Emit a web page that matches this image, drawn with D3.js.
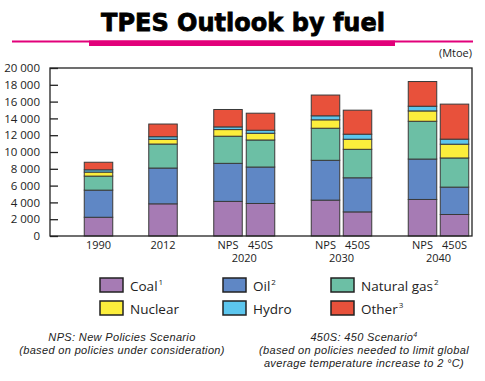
<!DOCTYPE html>
<html><head><meta charset="utf-8">
<script src="https://cdn.jsdelivr.net/npm/d3@7"></script>
<style>body{margin:0;background:#fff;}svg{display:block;}</style>
</head><body>
<svg id="c" width="485" height="381"></svg>
<script>
const groups = ["1990","2012","NPS 2020","450S 2020","NPS 2030","450S 2030","NPS 2040","450S 2040"];
const xLabels = ["1990","2012","NPS","450S","NPS","450S","NPS","450S"];
const yearLabels = [{after:2, text:"2020"},{after:4, text:"2030"},{after:6, text:"2040"}];
const fuels = ["Coal","Oil","Natural gas","Nuclear","Hydro","Other"];
const fuelSup = ["1","2","2","","","3"];
const coal    = [2230, 3830, 4120, 3870, 4270, 2870, 4350, 2560];
const oil     = [3230, 4260, 4530, 4340, 4740, 4060, 4810, 3260];
const gas     = [1670, 2860, 3230, 3220, 3820, 3390, 4500, 3470];
const nuclear = [ 480,  560,  790,  800, 1000, 1200, 1230, 1640];
const hydro   = [ 270,  310,  320,  360,  480,  600,  560,  600];
const other   = [ 900, 1510, 2070, 2030, 2470, 2860, 2940, 4170];
const yTicks = [0,2000,4000,6000,8000,10000,12000,14000,16000,18000,20000];
const colors = ["#a67bb4","#5f87c5","#6cbfa5","#fcee3c","#5cc6ee","#e8513b"];

const svg = d3.select("#c");
const font = "'Open Sans', 'DejaVu Sans', sans-serif";

// title
svg.append("text").attr("x",243).attr("y",31).attr("text-anchor","middle")
  .attr("font-family","'DejaVu Sans', sans-serif").attr("font-weight","bold")
  .attr("font-size",25).attr("textLength",284).attr("lengthAdjust","spacingAndGlyphs")
  .attr("fill","#000").attr("stroke","#000").attr("stroke-width",0.8).text("TPES Outlook by fuel");
svg.append("rect").attr("x",12).attr("y",40.5).attr("width",461).attr("height",2).attr("fill","#e2007a");
svg.append("rect").attr("x",89).attr("y",40.5).attr("width",306).attr("height",5.5).attr("fill","#e2007a");

svg.append("text").attr("x",472).attr("y",57).attr("text-anchor","end")
  .attr("font-family",font).attr("font-size",11).attr("fill","#222").text("(Mtoe)");

const L = 50, R = 472, T = 68, B = 236;
const y = d3.scaleLinear().domain([0,20000]).range([B,T]);
const centers = [98.5, 163, 228, 260.5, 325.5, 357.5, 422.5, 454.5];
const bw = 28.5;
const cx = g => centers[groups.indexOf(g)];

const table = groups.map((g,i)=>({group:g, Coal:coal[i], Oil:oil[i], "Natural gas":gas[i], Nuclear:nuclear[i], Hydro:hydro[i], Other:other[i]}));
const stack = d3.stack().keys(fuels)(table);

svg.append("g").selectAll("g").data(stack).join("g")
  .attr("fill",(d,i)=>colors[i])
  .selectAll("rect").data(d=>d).join("rect")
  .attr("x",d=>cx(d.data.group)-bw/2).attr("width",bw)
  .attr("y",d=>y(d[1])).attr("height",d=>y(d[0])-y(d[1]))
  .attr("stroke","#3a3a3a").attr("stroke-width",1);

// frame
svg.append("rect").attr("x",L).attr("y",T).attr("width",R-L).attr("height",B-T)
  .attr("fill","none").attr("stroke","#222").attr("stroke-width",1.3);

// y axis
const ya = d3.axisLeft(y).tickValues(yTicks).tickSize(-8).tickPadding(14)
  .tickFormat(d=>d3.format(",")(d).replace(/,/g," "));
const yg = svg.append("g").attr("transform",`translate(${L},0)`).call(ya);
yg.select(".domain").remove();
yg.selectAll("line").attr("stroke","#222").attr("stroke-width",1.3);
yg.selectAll("text").attr("font-family",font).attr("font-size",11.5).attr("fill","#222").attr("dx",4);

// x labels
svg.append("g").selectAll("text").data(groups).join("text")
  .attr("x",g=>cx(g)).attr("y",249).attr("text-anchor","middle")
  .attr("font-family",font).attr("font-size",11).attr("fill","#222")
  .text((g,i)=>xLabels[i]);
svg.append("g").selectAll("text").data(yearLabels).join("text")
  .attr("x",d=>(centers[d.after]+centers[d.after+1])/2).attr("y",262).attr("text-anchor","middle")
  .attr("font-family",font).attr("font-size",11).attr("fill","#222").text(d=>d.text);

// legend
const legX = [100, 223, 331], legY = [278, 301];
const lg = svg.append("g").selectAll("g").data(fuels).join("g")
  .attr("transform",(d,i)=>`translate(${legX[i%3]},${legY[Math.floor(i/3)]})`);
lg.append("rect").attr("width",23).attr("height",14).attr("fill",(d,i)=>colors[i])
  .attr("stroke","#222").attr("stroke-width",1.5);
const lt = lg.append("text").attr("x",30).attr("y",12.5)
  .attr("font-family",font).attr("font-size",13.5).attr("fill","#222");
lt.append("tspan").text(d=>d);
lt.append("tspan").attr("font-size",8).attr("dy",-6).attr("dx",1).text((d,i)=>fuelSup[i]);

// footnotes
const fn = svg.append("g").attr("font-family","'Liberation Sans', Arial, sans-serif").attr("font-style","italic")
  .attr("font-size",11).attr("letter-spacing",0.35).attr("fill","#222").attr("text-anchor","middle");
fn.append("text").attr("x",122).attr("y",341).text("NPS: New Policies Scenario");
fn.append("text").attr("x",122).attr("y",354).text("(based on policies under consideration)");
const t4 = fn.append("text").attr("x",364).attr("y",341);
t4.append("tspan").text("450S: 450 Scenario");
t4.append("tspan").attr("font-size",7).attr("dy",-4).text("4");
fn.append("text").attr("x",364).attr("y",354).text("(based on policies needed to limit global");
fn.append("text").attr("x",364).attr("y",367).text("average temperature increase to 2 °C)");
</script>
</body></html>
